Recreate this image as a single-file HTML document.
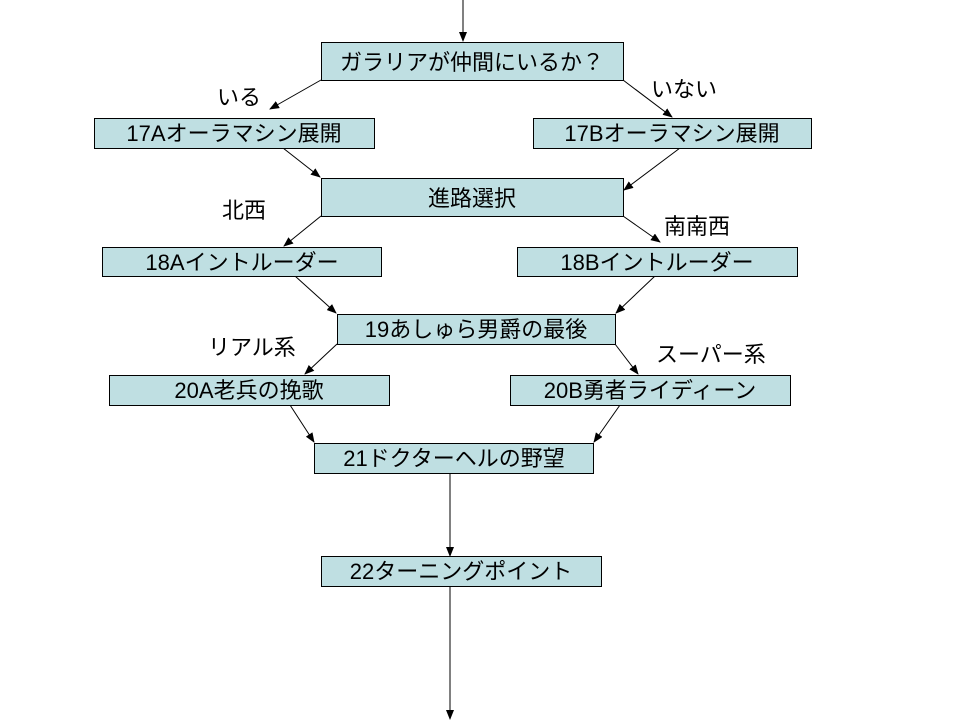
<!DOCTYPE html>
<html><head><meta charset="utf-8"><style>
html,body{margin:0;padding:0;background:#fff;}
svg{display:block;}
text{font-family:"Liberation Sans","Noto Sans CJK JP",sans-serif;font-size:22px;fill:#000;}
rect{fill:#bfdfe2;stroke:#000;stroke-width:1;}
line{stroke:#000;stroke-width:1;}
</style></head><body>
<svg width="960" height="720" viewBox="0 0 960 720" xmlns="http://www.w3.org/2000/svg">
<defs><marker id="a" markerWidth="10" markerHeight="8" refX="9" refY="4" orient="auto" markerUnits="userSpaceOnUse"><path d="M0,0 L10,4 L0,8 z" fill="#000"/></marker></defs>
<g>
<line x1="463" y1="0" x2="463" y2="41" marker-end="url(#a)"/>
<line x1="321" y1="80" x2="270" y2="109" marker-end="url(#a)"/>
<line x1="623" y1="80" x2="672" y2="117" marker-end="url(#a)"/>
<line x1="283" y1="148" x2="320" y2="177" marker-end="url(#a)"/>
<line x1="680" y1="148" x2="624" y2="190" marker-end="url(#a)"/>
<line x1="321" y1="216" x2="284" y2="246" marker-end="url(#a)"/>
<line x1="623" y1="216" x2="660" y2="242" marker-end="url(#a)"/>
<line x1="295" y1="276" x2="336" y2="313" marker-end="url(#a)"/>
<line x1="655" y1="276" x2="616" y2="313" marker-end="url(#a)"/>
<line x1="337" y1="344" x2="305" y2="374" marker-end="url(#a)"/>
<line x1="615" y1="344" x2="638" y2="374" marker-end="url(#a)"/>
<line x1="290" y1="405" x2="314" y2="442" marker-end="url(#a)"/>
<line x1="620" y1="405" x2="594" y2="442" marker-end="url(#a)"/>
<line x1="450" y1="473" x2="450" y2="556" marker-end="url(#a)"/>
<line x1="450" y1="587" x2="450" y2="719" marker-end="url(#a)"/>
</g>
<rect x="321.5" y="42.5" width="302" height="38"/>
<rect x="94.5" y="118.5" width="280" height="30"/>
<rect x="533.5" y="118.5" width="278" height="30"/>
<rect x="321.5" y="178.5" width="302" height="38"/>
<rect x="102.5" y="247.5" width="279" height="29"/>
<rect x="517.5" y="247.5" width="280" height="29"/>
<rect x="337.5" y="314.5" width="278" height="30"/>
<rect x="109.5" y="375.5" width="280" height="30"/>
<rect x="510.5" y="375.5" width="280" height="30"/>
<rect x="314.5" y="443.5" width="279" height="30"/>
<rect x="321.5" y="556.5" width="280" height="30"/>
<g text-anchor="middle">
<text x="472" y="70">ガラリアが仲間にいるか？</text>
<text x="234" y="141">17Aオーラマシン展開</text>
<text x="672" y="141">17Bオーラマシン展開</text>
<text x="472" y="206">進路選択</text>
<text x="242" y="270">18Aイントルーダー</text>
<text x="657" y="270">18Bイントルーダー</text>
<text x="476" y="337">19あしゅら男爵の最後</text>
<text x="249" y="398">20A老兵の挽歌</text>
<text x="650" y="398">20B勇者ライディーン</text>
<text x="454" y="466">21ドクターヘルの野望</text>
<text x="461" y="579">22ターニングポイント</text>
</g>
<text x="217" y="105">いる</text>
<text x="651" y="97">いない</text>
<text x="222" y="218">北西</text>
<text x="664" y="234">南南西</text>
<text x="208" y="355">リアル系</text>
<text x="656" y="362">スーパー系</text>
</svg>
</body></html>
